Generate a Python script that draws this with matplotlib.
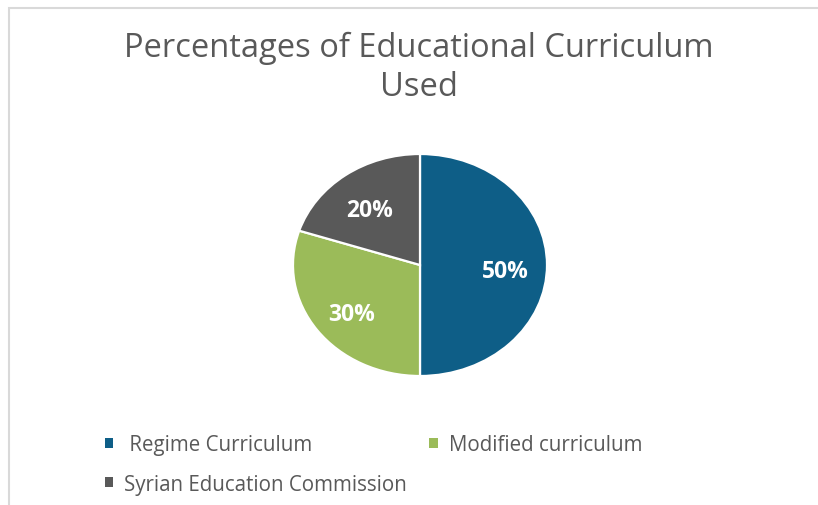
import matplotlib
matplotlib.use('Agg')
import matplotlib.pyplot as plt
from matplotlib.patches import Rectangle
from matplotlib.transforms import offset_copy

plt.rcParams['font.family'] = ['Open Sans', 'DejaVu Sans']

curricula = ['Regime Curriculum', 'Modified curriculum', 'Syrian Education Commission']
shares = [50, 30, 20]
colors = ['#0E5E87', '#9BBB59', '#595959']
text_grey = '#595959'

fig = plt.figure(figsize=(8.18, 5.06), dpi=100)
fig.patch.set_facecolor('white')

# light frame around the chart area
fig.patches.append(Rectangle((9 / 818, -0.05), 1.2, 1 - 9 / 506 + 0.05,
                             transform=fig.transFigure, fill=False,
                             edgecolor='#D9D9D9', linewidth=1.5))

fig.text(0.512, 0.866, 'Percentages of Educational Curriculum\nUsed',
         ha='center', va='center', fontsize=23.5, color=text_grey,
         linespacing=1.22)

ax = fig.add_axes([293 / 818, 1 - 377 / 506, 254 / 818, 222 / 506])
wedges, _, autotexts = ax.pie(
    shares, colors=colors, startangle=90, counterclock=False,
    autopct='%d%%', pctdistance=0.67,
    wedgeprops={'edgecolor': 'white', 'linewidth': 1.6},
    textprops={'color': 'white', 'fontsize': 16.5, 'fontweight': 'bold'})
# nudge the percentage labels down a little
for t in autotexts:
    t.set_transform(offset_copy(t.get_transform(), fig=fig, y=-4, units='points'))
ax.set_aspect('auto')
ax.set_xlim(-1.0, 1.0)
ax.set_ylim(-1.0, 1.0)

# two-column legend: order so the first row reads Regime / Modified
order = [0, 2, 1]
labels = [' ' + curricula[0], curricula[1], curricula[2]]
leg = fig.legend([wedges[i] for i in order], [labels[i] for i in order],
                 ncol=2, loc='upper left', bbox_to_anchor=(86 / 818, 1 - 417 / 506),
                 frameon=False, fontsize=14.8, handlelength=0.4, handleheight=0.4,
                 handletextpad=0.55, columnspacing=1.1, labelspacing=0.88)
for t in leg.get_texts():
    t.set_color(text_grey)
for h in leg.legend_handles:
    h.set_edgecolor('none')

fig.savefig('out.png', dpi=100, facecolor='white')
